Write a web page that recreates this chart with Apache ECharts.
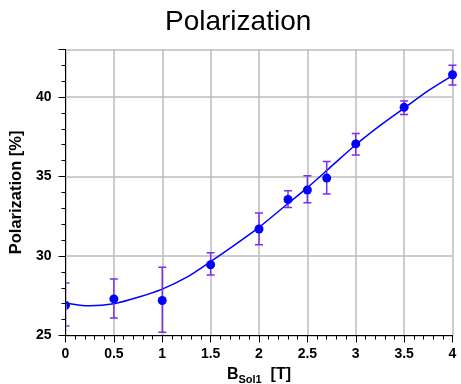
<!DOCTYPE html>
<html>
<head>
<meta charset="utf-8">
<script src="https://cdn.jsdelivr.net/npm/echarts@6/dist/echarts.min.js"></script>
<style>html,body{margin:0;padding:0;background:#fff}#c{width:461px;height:384px}</style>
</head>
<body>
<div id="c"></div>
<script>
const bField = [0, 0.5, 1, 1.5, 2, 2.3, 2.5, 2.7, 3, 3.5, 4];
const polarization = [26.9, 27.3, 27.2, 29.45, 31.7, 33.55, 34.15, 34.9, 37.05, 39.35, 41.4];
const errLow = [25.6, 26.1, 25.2, 28.8, 30.7, 33.05, 33.35, 33.9, 36.35, 38.9, 40.75];
const errHigh = [28.3, 28.55, 29.3, 30.2, 32.7, 34.1, 35.05, 35.95, 37.7, 39.75, 42.0];
const fitX = [0, 0.25, 0.5, 0.75, 1, 1.25, 1.5, 1.75, 2, 2.25, 2.5, 2.75, 3, 3.25, 3.5, 3.75, 4];
const fitY = [27.05, 26.87, 27.0, 27.4, 27.92, 28.65, 29.65, 30.7, 31.8, 33.05, 34.3, 35.65, 37.0, 38.2, 39.3, 40.4, 41.35];

const pointData = bField.map((x, i) => [x, polarization[i], errLow[i], errHigh[i]]);
const fitData = fitX.map((x, i) => [x, fitY[i]]);

const chart = echarts.init(document.getElementById('c'));
const FONT = 'Liberation Sans, Arial, sans-serif';

function clipFor(params) {
  const cs = params.coordSys;
  return { shape: { x: cs.x + 1, y: cs.y - 20, width: cs.width + 30, height: cs.height + 40 } };
}

chart.setOption({
  animation: false,
  title: {
    text: 'Polarization',
    left: 160, top: 3,
    textStyle: { fontFamily: FONT, fontSize: 28, fontWeight: 'normal', color: '#000' }
  },
  grid: { left: 65.5, right: 8.5, top: 49.3, bottom: 48.5, outerBoundsMode: 'none', containLabel: false },
  xAxis: {
    type: 'value', min: 0, max: 4, interval: 0.5,
    name: '{b|B}{s|Sol1}{b|  [T]}',
    nameLocation: 'middle', nameGap: 29,
    nameTextStyle: {
      rich: {
        b: { fontFamily: FONT, fontSize: 16, fontWeight: 'bold', color: '#000', verticalAlign: 'bottom', lineHeight: 18 },
        s: { fontFamily: FONT, fontSize: 11, fontWeight: 'bold', color: '#000', verticalAlign: 'bottom', lineHeight: 18, padding: [0, 0, -3, 0] }
      }
    },
    axisLine: { show: true, lineStyle: { color: '#000', width: 1 } },
    axisTick: { show: true, inside: false, length: 7, lineStyle: { color: '#000', width: 1 } },
    minorTick: { show: true, splitNumber: 5, length: 4, lineStyle: { color: '#000', width: 1 } },
    axisLabel: { fontFamily: FONT, fontSize: 14, fontWeight: 'bold', color: '#000', margin: 12,
      formatter: v => String(v) },
    splitLine: { show: true, lineStyle: { color: '#bcbcbc', width: 1.5 } }
  },
  yAxis: {
    type: 'value', min: 25, max: 43, interval: 5,
    name: 'Polarization [%]',
    nameLocation: 'middle', nameGap: 37,
    nameTextStyle: { fontFamily: FONT, fontSize: 16.5, fontWeight: 'bold', color: '#000' },
    axisLine: { show: true, lineStyle: { color: '#000', width: 1 } },
    axisTick: { show: true, inside: false, length: 7, lineStyle: { color: '#000', width: 1 } },
    minorTick: { show: true, splitNumber: 5, length: 4, lineStyle: { color: '#000', width: 1 } },
    axisLabel: { fontFamily: FONT, fontSize: 14, fontWeight: 'bold', color: '#000', margin: 14,
      formatter: v => (v % 5 === 0 ? String(v) : '') },
    splitLine: { show: true, lineStyle: { color: '#bcbcbc', width: 1.5 } }
  },
  series: [
    {
      type: 'line',
      data: fitData,
      smooth: 0.3,
      showSymbol: false,
      lineStyle: { color: '#0000ff', width: 1.5 },
      z: 3
    },
    {
      type: 'custom',
      data: pointData,
      z: 4,
      renderItem: function (params, api) {
        const x = api.value(0);
        const p = api.coord([x, api.value(1)]);
        const lo = api.coord([x, api.value(2)]);
        const hi = api.coord([x, api.value(3)]);
        const cap = 4;
        const es = { stroke: '#7a2ff0', lineWidth: 1.5 };
        return {
          type: 'group',
          clipPath: { type: 'rect', shape: clipFor(params).shape },
          children: [
            { type: 'line', shape: { x1: lo[0], y1: lo[1], x2: hi[0], y2: hi[1] }, style: es },
            { type: 'line', shape: { x1: lo[0] - cap, y1: lo[1], x2: lo[0] + cap, y2: lo[1] }, style: es },
            { type: 'line', shape: { x1: hi[0] - cap, y1: hi[1], x2: hi[0] + cap, y2: hi[1] }, style: es },
            { type: 'circle', shape: { cx: p[0], cy: p[1], r: 4.5 }, style: { fill: '#0000ff' } }
          ]
        };
      }
    }
  ]
});
</script>
</body>
</html>
